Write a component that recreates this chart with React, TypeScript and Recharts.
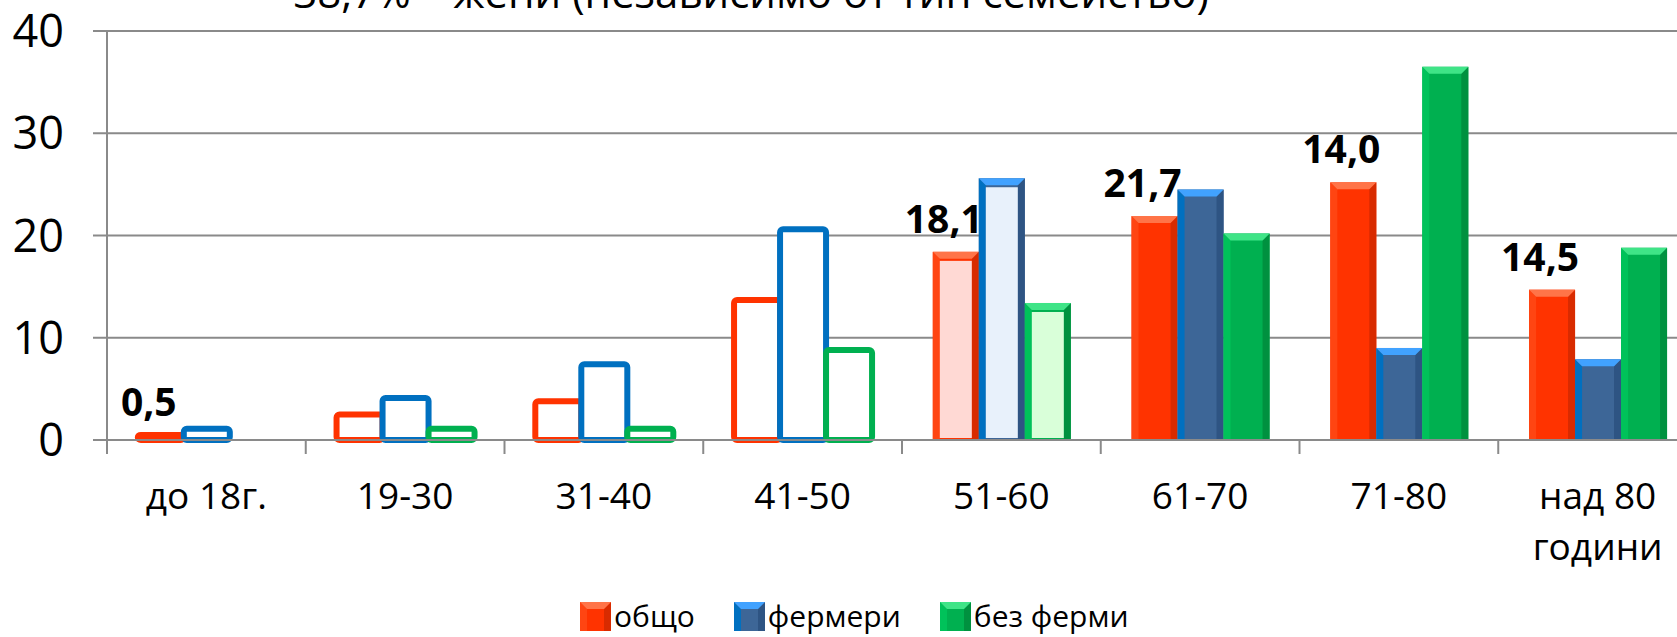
import React from 'react';
import { BarChart, Bar, XAxis, YAxis, CartesianGrid, Legend, LabelList } from 'recharts';

const categories = ['до 18г.', '19-30', '31-40', '41-50', '51-60', '61-70', '71-80', 'над 80\nгодини'];
const obshto = [0.5, 2.5, 3.8, 13.7, 18.4, 21.9, 25.2, 14.7];
const fermeri = [1.1, 4.1, 7.4, 20.6, 25.6, 24.5, 9.0, 7.9];
const bezFermi = [0, 1.1, 1.1, 8.8, 13.4, 20.2, 36.5, 18.8];
const labelTexts = ['0,5', '', '', '', '18,1', '21,7', '14,0', '14,5'];
const yTicks = [0, 10, 20, 30, 40];
const seriesNames = ['общо', 'фермери', 'без ферми'];
const styleTier = ['outline', 'outline', 'outline', 'outline', 'light', 'solid', 'solid', 'solid'];
const title = '38,7% – жени (независимо от тип семейство)';

const data = categories.map((c, i) => ({
  cat: c,
  obshto: obshto[i],
  fermeri: fermeri[i],
  bezFermi: bezFermi[i],
}));

const FONT = '"Open Sans", "Noto Sans", sans-serif';
const GRAY = '#8a8a8a';
const CHART_W = 1700;
const CHART_H = 637;
const PLOT_LEFT = 107;
const PLOT_RIGHT = 1697;
const AXIS_Y = 440;
const BAND = (PLOT_RIGHT - PLOT_LEFT) / categories.length;

type Pal = { main: string; top: string; left: string; right: string; light: string; stroke: string };
const PALETTE: Record<string, Pal> = {
  obshto: { main: '#FF3300', top: '#FF7448', left: '#FF4512', right: '#D82B00', light: '#FFD9D4', stroke: '#FF3300' },
  fermeri: { main: '#3D6697', top: '#41A2FF', left: '#0070C0', right: '#2E5483', light: '#E8F1FB', stroke: '#0070C0' },
  bezFermi: { main: '#00B050', top: '#3FE487', left: '#00C25A', right: '#00913F', light: '#D9FFD9', stroke: '#00B050' },
};

const bevel = (x: number, y: number, w: number, h: number, c: Pal, b: number, key?: string) => (
  <g key={key}>
    <rect x={x} y={y} width={w} height={h} fill={c.main} />
    <polygon points={`${x},${y} ${x + b},${y + b} ${x + b},${y + h} ${x},${y + h}`} fill={c.left} />
    <polygon points={`${x + w},${y} ${x + w - b},${y + b} ${x + w - b},${y + h} ${x + w},${y + h}`} fill={c.right} />
    <polygon points={`${x},${y} ${x + w},${y} ${x + w - b},${y + b} ${x + b},${y + b}`} fill={c.top} />
  </g>
);

const makeShape = (key: string) => (props: any) => {
  const { x, y, width, height, index } = props;
  if (!height || height <= 0) return <g />;
  const c = PALETTE[key];
  const tier = styleTier[index];
  if (tier === 'outline') {
    return <rect x={x} y={y} width={width} height={height} rx={3} fill="#fff" stroke={c.stroke} strokeWidth={6} />;
  }
  const b = Math.min(7, width / 2, height / 2);
  if (tier === 'light') {
    return (
      <g>
        {bevel(x, y, width, height, c, b)}
        <rect x={x + b} y={y + b + 2} width={width - 2 * b} height={Math.max(0, height - b - 4)} fill={c.light} />
      </g>
    );
  }
  return bevel(x, y, width, height, c, b);
};

const renderLabel = (props: any) => {
  const { x, y, width, index } = props;
  const t = labelTexts[index];
  if (!t) return null;
  return (
    <text x={Number(x) + Number(width) / 2 - 12} y={Number(y) - 19} textAnchor="middle" fontFamily={FONT} fontWeight={700} fontSize={39} fill="#000">
      {t}
    </text>
  );
};

const XTick = (props: any) => {
  const { x, payload } = props;
  const lines = String(payload.value).split('\n');
  return (
    <g>
      <line x1={x - BAND / 2} x2={x - BAND / 2} y1={AXIS_Y} y2={AXIS_Y + 14} stroke={GRAY} strokeWidth={2} />
      <text x={x} y={AXIS_Y + 69} textAnchor="middle" fontFamily={FONT} fontSize={37} fill="#000">
        {lines.map((l, i) => (
          <tspan key={i} x={x} dy={i === 0 ? 0 : 51}>
            {l}
          </tspan>
        ))}
      </text>
    </g>
  );
};

const YTick = (props: any) => {
  const { x, y, payload } = props;
  return (
    <text x={x - 29} y={y} dy="0.36em" textAnchor="end" fontFamily={FONT} fontSize={45} fill="#000">
      {payload.value}
    </text>
  );
};

const LegendContent = (props: any) => {
  const payload = [...(props.payload || [])].sort(
    (a: any, b: any) => seriesNames.indexOf(a.value) - seriesNames.indexOf(b.value)
  );
  return (
    <div style={{ display: 'flex', alignItems: 'center', fontFamily: FONT, fontSize: 30, color: '#000', lineHeight: 1 }}>
      {payload.map((p: any) => {
        const c = PALETTE[p.dataKey];
        return (
          <div key={p.value} style={{ display: 'flex', alignItems: 'center', marginRight: 39 }}>
            <svg width={31} height={29} style={{ display: 'block' }}>
              {bevel(0, 0, 31, 29, c, 7)}
            </svg>
            <span style={{ marginLeft: 3 }}>{p.value}</span>
          </div>
        );
      })}
    </div>
  );
};

export default function App() {
  return (
    <div style={{ position: 'absolute', left: 0, top: 0, width: 1677, height: 637, overflow: 'hidden', background: '#fff' }}>
      <svg width={1677} height={40} style={{ position: 'absolute', left: 0, top: 0 }}>
        <text x={751} y={8} textAnchor="middle" fontFamily={FONT} fontSize={42} fill="#000">
          {title}
        </text>
      </svg>
      <BarChart
        width={CHART_W}
        height={CHART_H}
        data={data}
        margin={{ top: 31, right: CHART_W - PLOT_RIGHT, left: 0, bottom: 0 }}
        barCategoryGap="15.5%"
        barGap={0}
      >
        <CartesianGrid vertical={false} stroke={GRAY} strokeWidth={2} />
        <XAxis
          dataKey="cat"
          height={CHART_H - 31 - 409}
          tickLine={false}
          axisLine={{ stroke: GRAY, strokeWidth: 2 }}
          tick={<XTick />}
          interval={0}
        />
        <YAxis
          width={PLOT_LEFT}
          domain={[0, 40]}
          ticks={yTicks}
          tickSize={14}
          tickMargin={0}
          tickLine={{ stroke: GRAY, strokeWidth: 2 }}
          axisLine={{ stroke: GRAY, strokeWidth: 2 }}
          tick={<YTick />}
          interval={0}
        />
        <Legend
          verticalAlign="middle"
          layout="horizontal"
          align="center"
          itemSorter={null as any}
          content={<LegendContent />}
          wrapperStyle={{ top: 601, left: 580, width: 800 }}
        />
        <Bar dataKey="obshto" name={seriesNames[0]} isAnimationActive={false} shape={makeShape('obshto')}>
          <LabelList dataKey="obshto" content={renderLabel} />
        </Bar>
        <Bar dataKey="fermeri" name={seriesNames[1]} isAnimationActive={false} shape={makeShape('fermeri')} />
        <Bar dataKey="bezFermi" name={seriesNames[2]} isAnimationActive={false} shape={makeShape('bezFermi')} />
      </BarChart>
    </div>
  );
}
